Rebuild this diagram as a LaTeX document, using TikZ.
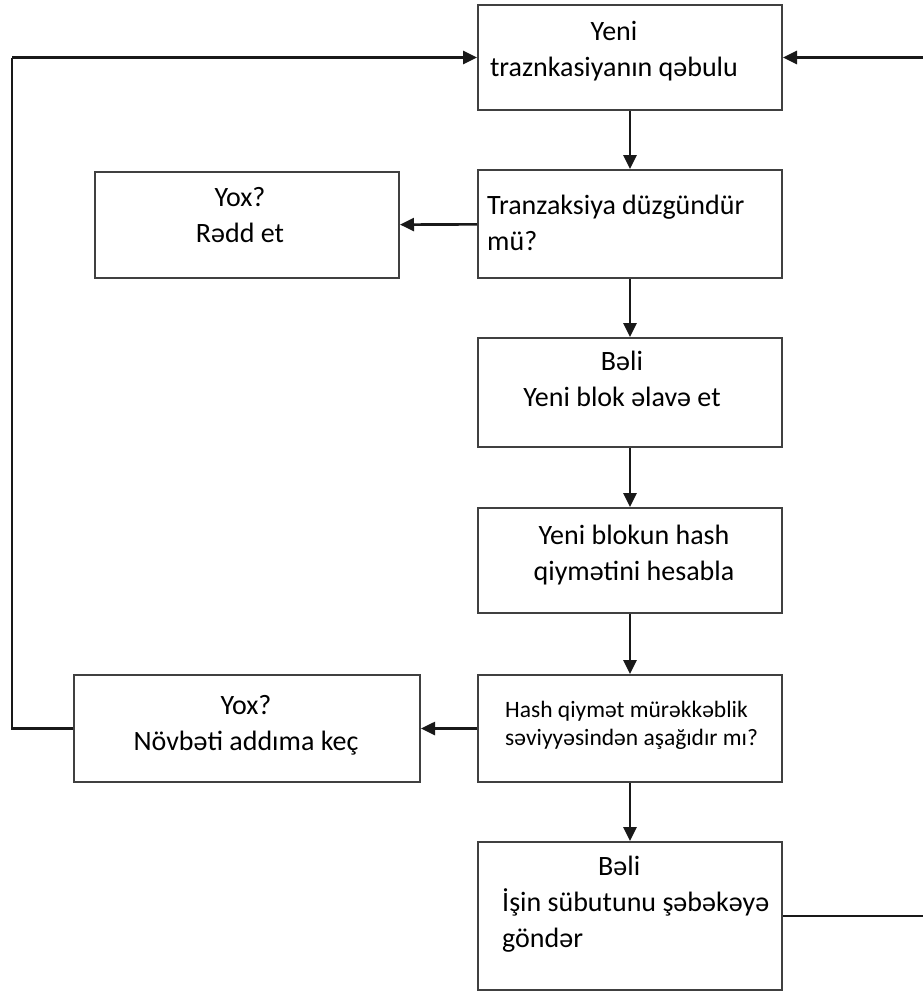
\documentclass[tikz,border=0pt]{standalone}
\usepackage{fontspec}
\setmainfont{Carlito}
\usepackage{tikz}
\usetikzlibrary{arrows.meta,positioning}

\tikzset{
  box/.style={draw=black!75, line width=2pt, minimum width=304pt, inner sep=0pt},
  txt/.style={inner sep=0pt, font=\fontsize{28pt}{36pt}\selectfont},
  small/.style={inner sep=0pt, font=\fontsize{23.5pt}{28pt}\selectfont},
  flow/.style={draw=black!90, line width=2.6pt, -{Triangle[length=14pt,width=13pt]}},
  loop/.style={draw=black!90, line width=2.6pt}
}

\begin{document}
\begin{tikzpicture}[x=1pt,y=-1pt]
    \useasboundingbox (0,0) rectangle (923,991);
    % boxes of the main column
    \node[box, minimum height=105pt] (recv) at (630,57.5) {};
    \node[box, minimum height=108pt] (check) at (630,224) {};
    \node[box, minimum height=109pt] (addblk) at (630,392.5) {};
    \node[box, minimum height=105pt] (hashc) at (630,560.5) {};
    \node[box, minimum height=107pt] (cmp) at (630,728.5) {};
    \node[box, minimum height=148pt] (send) at (630,916) {};
    % boxes on the left
    \node[box, minimum height=106pt] (reject) at (247,225) {};
    \node[box, minimum height=107pt, minimum width=346pt] (skip) at (247,728.5) {};
    % texts
    \node[txt, anchor=north, align=center] (recvT) at (614,21) {Yeni\\traznkasiyanın qəbulu};
    \node[txt, anchor=north west, align=left] (checkT) at (487,195) {Tranzaksiya düzgündür\\mü?};
    \node[txt, anchor=north, align=center] (addblkT) at (622,351) {Bəli\\Yeni blok əlavə et};
    \node[txt, anchor=north, align=center] (hashcT) at (634,525) {Yeni blokun hash\\qiymətini hesabla};
    \node[small, anchor=north west, align=left] (cmpT) at (505,701) {Hash qiymət mürəkkəblik\\səviyyəsindən aşağıdır mı?};
    \node[txt, anchor=north west, align=left] (sendT) at (502,856) {\hspace*{96pt}Bəli\\İşin sübutunu şəbəkəyə\\göndər};
    \node[txt, anchor=north, align=center] (rejectT) at (240,187) {Yox?\\Rədd et};
    \node[txt, anchor=north, align=center] (skipT) at (246,695) {Yox?\\Növbəti addıma keç};
    % arrows down the column
    \draw[flow] (recv) -- (check);
    \draw[flow] (check) -- (addblk);
    \draw[flow] (addblk) -- (hashc);
    \draw[flow] (hashc) -- (cmp);
    \draw[flow] (cmp) -- (send);
    % arrows to the left
    \draw[flow] (check) -- (reject);
    \draw[flow] (cmp) -- (skip);
    % loops back to the top
    \coordinate (lft) at (12,0);
    \coordinate (rgt) at (940,0);
    \draw[loop] (skip.west) -- (skip.west -| lft) -- (lft |- recv.west);
    \draw[flow] (lft |- recv.west) -- (recv.west);
    \draw[loop] (send.east) -- (send.east -| rgt) -- (rgt |- recv.east);
    \draw[flow] (rgt |- recv.east) -- (recv.east);
\end{tikzpicture}
\end{document}
